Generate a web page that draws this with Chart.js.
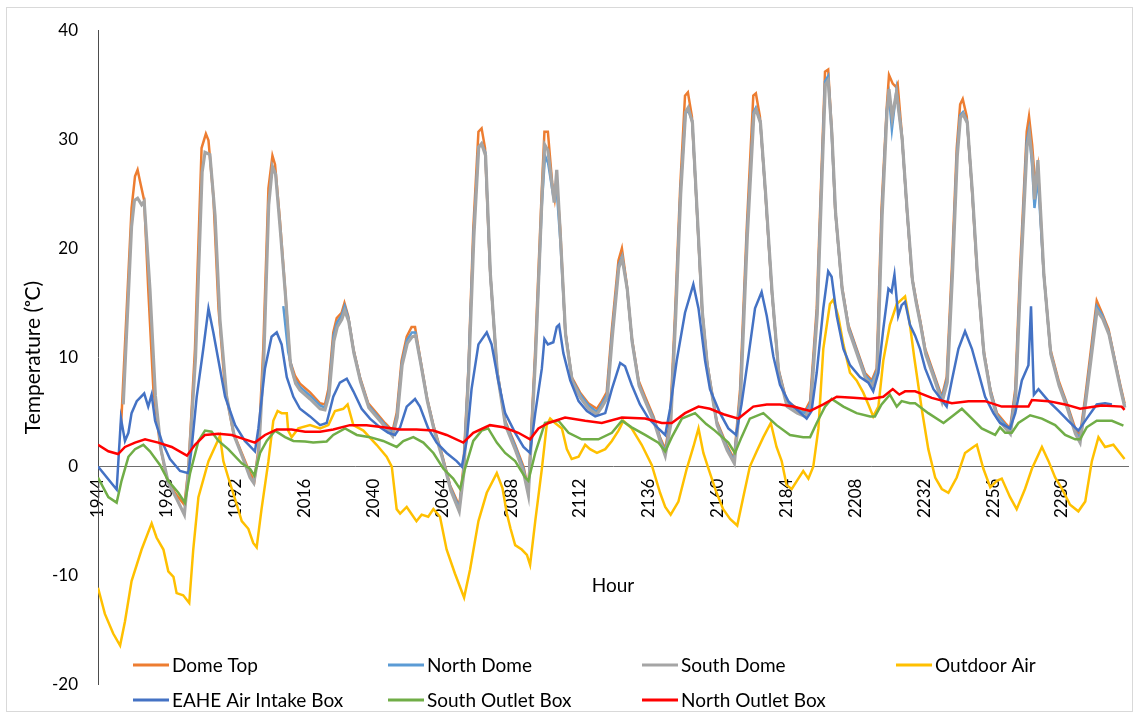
<!DOCTYPE html>
<html>
<head>
<meta charset="utf-8">
<script src="https://cdn.jsdelivr.net/npm/chart.js@4.4.1/dist/chart.umd.min.js"></script>
<style>
  html, body { margin: 0; padding: 0; background: #fff; }
  #wrap { position: relative; width: 1138px; height: 715px; }
  #frame { position: absolute; left: 6px; top: 7px; width: 1127px; height: 705px; border: 1px solid #d9d9d9; box-sizing: border-box; pointer-events: none; }
  canvas { position: absolute; left: 0; top: 0; }
</style>
</head>
<body>
<div id="wrap">
  <canvas id="c" width="1138" height="715"></canvas>
  <div id="frame"></div>
</div>
<script>
// Hourly temperatures (°C) as [hour, value] pairs
const domeTop = [
  [1952,3.5],[1955.7,23.7],[1956.9,26.6],[1957.8,27.2],[1958.6,26.2],[1960.1,24.4],[1961.5,16.3],[1963.3,7.1],[1965.6,2.0],[1967.9,-1.0],[1970.8,-2.4],[1974.1,-3.5],[1975.5,-0.2],[1977.8,10.8],[1980.1,29.2],[1981.6,30.5],[1982.5,29.9],[1984.2,24.8],[1986,14.5],[1988.3,7.1],[1991.2,3.1],[1994.1,1.25],[1997,-0.6],[1998.5,-1.3],[1999.9,1.6],[2001.6,10.8],[2003.4,25.5],[2004.8,28.5],[2005.7,27.7],[2007.4,22.6],[2009.2,16.3],[2010.9,9.7],[2012.7,8.3],[2014.4,7.6],[2017.9,6.8],[2021.4,5.8],[2023.1,5.7],[2024.3,7.1],[2026,12.3],[2027.2,13.6],[2028.9,14.1],[2029.9,15.0],[2031.2,13.8],[2033,10.8],[2035.3,8.2],[2038.2,5.8],[2041.1,4.9],[2044,4.0],[2046.7,3.3],[2048.1,4.9],[2049.8,9.7],[2051.6,11.9],[2053.3,12.8],[2054.5,12.8],[2056.2,10.1],[2058.6,6.4],[2060.9,3.8],[2063.8,1.25],[2066.7,-1.7],[2069.9,-3.6],[2071.3,-0.2],[2073.1,9.0],[2074.8,21.8],[2076.6,30.7],[2077.7,31.0],[2078.9,29.2],[2080.6,18.2],[2083,9.0],[2085.9,4.2],[2089.4,2.0],[2092.3,0.0],[2094,-2.05],[2096.4,10.8],[2098.7,25.5],[2099.6,30.7],[2100.8,30.7],[2102.3,26.0],[2103.2,24.5],[2103.9,26.0],[2105.1,21.8],[2106.8,12.6],[2109.1,8.2],[2112,6.8],[2114.9,5.8],[2117.9,5.3],[2119.6,6.0],[2121.3,6.8],[2123.1,12.6],[2125.4,18.9],[2126.6,20.0],[2128.3,16.7],[2130,11.9],[2132.4,7.9],[2134.7,6.4],[2137.6,4.6],[2139.9,2.7],[2141.7,1.6],[2143.4,4.2],[2145.2,14.5],[2146.9,25.5],[2148.6,34.0],[2149.6,34.3],[2151,32.1],[2152.7,23.7],[2154.5,14.5],[2156.2,9.7],[2157.3,7.9],[2159.6,4.2],[2163.1,2.0],[2165.7,0.7],[2167.8,7.1],[2170.1,21.8],[2172.4,34.0],[2173.3,34.2],[2174.7,32.1],[2176.5,25.5],[2178.8,16.3],[2181.1,9.0],[2184,6.0],[2187.5,5.4],[2190.4,5.1],[2192.2,6.0],[2194.5,14.5],[2196.2,27.4],[2197.4,36.2],[2198.5,36.4],[2199.7,31.0],[2200.9,23.7],[2203.2,16.7],[2205.5,13.0],[2208.4,10.8],[2211.3,8.6],[2213.7,7.9],[2215.4,9.0],[2217.1,23.7],[2218.9,32.9],[2219.7,35.9],[2221,35.1],[2222.1,34.8],[2222.7,35.1],[2224.1,30.7],[2225.9,23.7],[2227.7,17.4],[2229,15.5],[2230.5,13.5],[2232.3,10.8],[2235.2,8.6],[2238.1,6.4],[2239.8,8.2],[2241.6,18.2],[2243.3,29.2],[2244.5,33.2],[2245.4,33.7],[2246.8,32.1],[2248.6,25.5],[2250.3,18.2],[2252.6,10.8],[2255,7.1],[2257.3,4.9],[2260.2,4.0],[2261.9,3.5],[2263.7,7.1],[2265.4,18.2],[2267.7,30.7],[2268.5,32.1],[2269.6,29.5],[2270.6,26.0],[2271.6,27.5],[2273.5,18.2],[2275.9,10.8],[2278.8,7.9],[2281.7,5.8],[2284.6,3.5],[2286.3,2.9],[2288.1,6.4],[2289.8,10.1],[2292.1,15.2],[2293.9,14.1],[2296.2,12.6],[2298.5,9.7],[2300.3,7.5],[2301.8,5.8]
];
const northDome = [
  [2008.6,14.7],[2010.3,10.5],[2012.5,8.0],[2014.4,7.3],[2017.9,6.5],[2021.4,5.6],[2023.1,5.4],[2024.4,6.8],[2026.1,12.0],[2027.3,13.2],[2029,13.9],[2030,14.7],[2031.3,13.6],[2033.1,10.6],[2035.4,8.0],[2038.3,5.6],[2041.2,4.7],[2044.1,3.8],[2046.7,3.1],[2048.2,4.7],[2049.9,9.5],[2051.7,11.6],[2053.4,12.3],[2054.6,12.3],[2056.3,9.8],[2058.7,6.2],[2061,3.6],[2063.9,1.0],[2066.8,-1.9],[2069.9,-3.8],[2071.4,-0.4],[2073.1,8.8],[2074.9,21.4],[2076.6,29.2],[2077.7,29.6],[2079,28.8],[2080.7,17.8],[2083.1,8.8],[2086,4.0],[2089.5,1.8],[2092.3,-0.2],[2094,-2.3],[2096.5,10.5],[2098.7,24.0],[2099.8,28.5],[2100.9,27.8],[2102.5,25.1],[2103.2,25.5],[2103.9,25.3],[2105.2,20.5],[2106.9,12.3],[2109.2,8.0],[2112.1,6.6],[2115,5.6],[2117.9,5.0],[2119.7,5.8],[2121.4,6.6],[2123.2,12.3],[2125.5,18.5],[2126.7,19.3],[2128.4,16.4],[2130.1,11.6],[2132.5,7.6],[2134.8,6.1],[2137.7,4.4],[2140,2.5],[2141.7,1.3],[2143.5,4.0],[2145.3,14.2],[2147,25.2],[2148.7,32.3],[2149.7,32.7],[2151.1,31.7],[2152.8,23.3],[2154.6,14.2],[2156.3,9.5],[2157.4,7.6],[2159.7,4.0],[2163.2,1.8],[2165.7,0.5],[2167.9,6.8],[2170.2,21.4],[2172.5,32.5],[2173.3,32.9],[2174.8,31.7],[2176.6,25.2],[2178.9,16.0],[2181.2,8.8],[2184.1,5.8],[2187.6,5.2],[2190.4,4.9],[2192.3,5.8],[2194.6,14.2],[2196.3,27.2],[2197.4,35.3],[2198.5,35.8],[2199.7,30.7],[2201,23.4],[2203.3,16.4],[2205.6,12.8],[2208.5,10.6],[2211.4,8.4],[2213.7,7.7],[2215.5,8.8],[2217.2,23.3],[2218.9,32.6],[2219.7,34.0],[2220.7,30.9],[2222.3,34.5],[2224.2,30.3],[2226,23.4],[2227.8,17.2],[2229.1,15.2],[2230.6,13.2],[2232.4,10.5],[2235.3,8.4],[2238.1,6.2],[2239.9,8.0],[2241.7,17.8],[2243.4,28.8],[2244.5,32.2],[2245.5,32.5],[2246.9,31.7],[2248.7,25.2],[2250.4,18.0],[2252.7,10.5],[2255.1,6.9],[2257.4,4.7],[2260.3,3.8],[2261.9,3.3],[2263.8,6.9],[2265.5,17.8],[2267.7,29.8],[2268.5,30.9],[2269.6,27.5],[2270.4,23.7],[2271.6,26.5],[2273.6,17.8],[2276,10.5],[2278.9,7.6],[2281.8,5.6],[2284.6,3.2],[2286.3,2.6],[2288.2,6.2],[2289.9,9.8],[2292.1,14.7],[2294,13.9],[2296.3,12.3],[2298.6,9.5],[2300.4,7.2],[2301.8,5.6]
];
const southDome = [
  [1952.8,5.7],[1955.7,22.0],[1956.7,24.4],[1957.8,24.6],[1959.2,24.0],[1960.1,24.3],[1962.1,16.3],[1964,6.5],[1966,1.5],[1968.5,-1.5],[1971.5,-3.0],[1974.1,-4.4],[1975.5,-0.5],[1978,10.0],[1980.3,27.0],[1981.3,28.8],[1983,28.6],[1984.8,23.0],[1986.5,13.5],[1988.8,6.5],[1991.5,2.8],[1994.5,0.8],[1997,-1.0],[1998.3,-1.5],[2000,1.2],[2001.8,10.0],[2003.5,24.0],[2004.8,27.5],[2005.9,26.8],[2007.6,21.5],[2009.4,15.5],[2011.1,9.3],[2012.9,7.6],[2014.4,7.0],[2017.9,6.2],[2021.4,5.3],[2023.1,5.2],[2024.5,6.5],[2026.2,11.5],[2027.4,12.8],[2029,13.5],[2030,14.3],[2031.4,13.3],[2033.2,10.4],[2035.5,7.8],[2038.4,5.4],[2041.3,4.5],[2044.2,3.6],[2046.7,2.8],[2048.3,4.5],[2050,9.3],[2051.8,11.3],[2053.5,11.9],[2054.7,12.0],[2056.4,9.6],[2058.8,6.0],[2061.1,3.4],[2064,0.8],[2067,-2.2],[2069.9,-4.1],[2071.5,-0.6],[2073.2,8.5],[2075,21.0],[2076.7,29.3],[2077.7,29.6],[2079.1,28.5],[2080.8,17.5],[2083.2,8.5],[2086,3.8],[2089.5,1.5],[2092.3,-0.5],[2094,-2.6],[2096.5,10.0],[2098.8,25.0],[2099.7,29.5],[2100.8,29.0],[2102.4,25.5],[2103,24.2],[2103.9,27.2],[2105.2,21.0],[2107,12.0],[2109.3,7.8],[2112.2,6.3],[2115,5.3],[2117.9,4.8],[2119.7,5.5],[2121.5,6.3],[2123.3,12.0],[2125.5,18.2],[2126.7,19.1],[2128.5,16.2],[2130.2,11.4],[2132.6,7.4],[2134.9,5.9],[2137.8,4.1],[2140.1,2.2],[2141.7,1.0],[2143.6,3.8],[2145.4,14.0],[2147.1,25.0],[2148.8,32.5],[2149.7,32.9],[2151.2,31.5],[2152.9,23.0],[2154.7,14.0],[2156.4,9.2],[2157.5,7.4],[2159.8,3.8],[2163.3,1.5],[2165.8,0.3],[2168,6.5],[2170.3,21.0],[2172.6,32.3],[2173.4,32.7],[2174.9,31.5],[2176.7,25.0],[2179,15.8],[2181.3,8.5],[2184.2,5.5],[2187.7,4.9],[2190.5,4.6],[2192.4,5.5],[2194.7,14.0],[2196.4,27.0],[2197.5,35.0],[2198.5,35.4],[2199.8,30.5],[2201.1,23.2],[2203.4,16.2],[2205.7,12.5],[2208.6,10.3],[2211.5,8.1],[2213.8,7.4],[2215.6,8.5],[2217.3,23.0],[2219,32.5],[2219.7,34.6],[2220.8,32.0],[2222.3,34.3],[2224.3,30.0],[2226.1,23.2],[2227.9,17.0],[2229.2,15.0],[2230.7,13.0],[2232.5,10.3],[2235.4,8.1],[2238.2,5.9],[2240,7.7],[2241.8,17.5],[2243.5,28.5],[2244.6,32.0],[2245.5,32.3],[2247,31.5],[2248.8,25.0],[2250.5,17.7],[2252.8,10.3],[2255.2,6.6],[2257.5,4.4],[2260.4,3.5],[2262,3.0],[2263.9,6.6],[2265.6,17.5],[2267.8,29.3],[2268.6,30.5],[2269.7,28.0],[2270.4,24.5],[2271.6,28.1],[2273.7,17.5],[2276.1,10.3],[2279,7.4],[2281.9,5.3],[2284.7,3.0],[2286.3,2.2],[2288.3,6.0],[2290,9.6],[2292.2,14.3],[2294.1,13.6],[2296.4,12.1],[2298.7,9.2],[2300.5,7.0],[2301.9,5.4]
];
const outdoorAir = [
  [1944,-11.1],[1946.4,-13.5],[1949.3,-15.3],[1951.7,-16.4],[1953.4,-14.2],[1955.7,-10.5],[1959.2,-7.6],[1962.7,-5.2],[1964.4,-6.5],[1966.8,-7.6],[1968.5,-9.6],[1970.3,-10.1],[1971.4,-11.6],[1973.7,-11.8],[1975.8,-12.5],[1977.2,-7.6],[1979,-2.8],[1982.5,0.5],[1986.5,2.8],[1987.7,0.5],[1989.4,-1.0],[1991.8,-3.0],[1994.1,-5.0],[1996.4,-5.7],[1998.1,-7.0],[1999.3,-7.4],[2001,-3.9],[2003.4,0.5],[2005.1,4.2],[2006.6,5.1],[2008,4.9],[2009.8,4.9],[2010.3,3.3],[2011.5,2.7],[2013.8,3.5],[2017.9,3.8],[2021.4,3.5],[2024.3,3.8],[2026.6,5.1],[2029.5,5.3],[2031,5.7],[2033,3.8],[2036.5,3.3],[2041.1,2.0],[2044.6,0.9],[2046.4,0],[2048.1,-3.9],[2049.3,-4.3],[2051.6,-3.7],[2055,-5.0],[2056.8,-4.4],[2059.1,-4.6],[2060.9,-3.9],[2063.2,-4.6],[2065.5,-7.6],[2068.4,-9.8],[2071.6,-12.0],[2073.7,-9.4],[2076.6,-5.0],[2079.5,-2.4],[2083,-0.6],[2085,-2.0],[2086.5,-4.3],[2087.8,-5.7],[2089.4,-7.2],[2091.7,-7.6],[2093.5,-8.1],[2094.6,-9.0],[2096.4,-5.0],[2098.7,-0.2],[2100.4,3.8],[2101.6,4.4],[2103.3,4.0],[2105.7,3.5],[2107.4,1.6],[2109.1,0.7],[2111.5,0.9],[2113.8,2.0],[2115.5,1.6],[2117.9,1.25],[2120.8,1.6],[2123.1,2.35],[2125.4,3.3],[2126,3.6],[2127.1,4.2],[2130,3.5],[2133.5,2.0],[2137,0.15],[2139.9,-2.4],[2141.7,-3.7],[2143.6,-4.4],[2146.3,-3.2],[2149.2,-0.2],[2151.5,1.8],[2153.3,3.5],[2155,1.25],[2156.8,-0.2],[2159.6,-2.4],[2161.9,-3.9],[2164.3,-4.8],[2166.8,-5.4],[2168.9,-2.8],[2171.2,0],[2173.6,1.4],[2175.9,2.7],[2178.5,4.0],[2180.5,1.8],[2182.3,0.5],[2184,-1.7],[2185.8,-2.05],[2188.1,-1.1],[2189.8,-0.4],[2191.6,-1.1],[2193.3,0],[2195.1,3.5],[2196.8,10.8],[2199.1,14.9],[2200.3,15.3],[2202,13.8],[2203.8,11.2],[2206.1,8.6],[2208.4,7.9],[2210.7,6.8],[2212.5,5.7],[2214.2,4.6],[2216,5.5],[2217.7,9.7],[2220,13.0],[2222.4,14.9],[2225.3,15.6],[2227,13.0],[2228.5,10.0],[2231.1,5.3],[2233.4,1.6],[2235.8,-1.0],[2238.1,-2.05],[2240.4,-2.4],[2243.3,-1.0],[2246.2,1.25],[2249.1,1.8],[2250.3,2.0],[2252.6,-0.2],[2255,-1.9],[2257.3,-1.3],[2259,-1.1],[2261.9,-2.8],[2264.2,-3.9],[2267.1,-2.05],[2269.5,-0.2],[2273,1.8],[2275.3,0.5],[2277.6,-1.0],[2280,-2.05],[2282.8,-3.5],[2285.7,-4.1],[2288.1,-3.2],[2290.4,0.5],[2292.7,2.7],[2295,1.8],[2297.9,2.0],[2301.8,0.7]
];
const eaheIntake = [
  [1944,0],[1950.5,-2.1],[1952,4.4],[1953.4,2.35],[1954.6,3.1],[1955.7,4.9],[1957.5,6.0],[1960.1,6.7],[1961.5,5.5],[1962.7,6.6],[1963.9,4.2],[1966.2,2.35],[1969.1,0.7],[1972.6,-0.4],[1975.5,-0.6],[1976.6,1.6],[1978.4,6.4],[1980.7,10.8],[1982.5,14.5],[1984.2,12.3],[1986,9.7],[1988.3,6.4],[1991.8,3.8],[1995.2,2.35],[1998.7,1.4],[1999.9,3.5],[2002.2,9.0],[2004.5,11.9],[2006.3,12.3],[2008,11.2],[2009.8,8.2],[2012.1,6.4],[2014.4,5.3],[2017.9,4.6],[2021.4,3.8],[2023.7,4.0],[2026,6.4],[2028.3,7.7],[2030.7,8.05],[2033,6.9],[2035.9,5.3],[2038.8,4.4],[2042.3,3.6],[2045.2,3.1],[2047.5,2.9],[2049.3,3.6],[2051.6,5.5],[2054.5,6.2],[2056.2,5.5],[2059.1,3.5],[2062,2.2],[2065.5,1.25],[2069,0.5],[2070.8,0],[2072.5,2.35],[2074.2,7.1],[2076.6,11.2],[2079.5,12.3],[2081.2,11.2],[2083.5,7.9],[2085.9,4.9],[2089.4,3.1],[2092.3,1.8],[2094.6,1.25],[2096.4,4.9],[2098.7,9.0],[2099.6,11.7],[2100.8,11.2],[2102.7,11.4],[2103.9,12.8],[2104.7,13.0],[2106.2,10.4],[2108.6,7.9],[2111.5,6.0],[2114.4,5.1],[2117.3,4.6],[2120.8,4.9],[2123.1,7.1],[2126,9.5],[2127.7,9.2],[2130,7.5],[2132.9,5.7],[2135.9,4.4],[2139.3,3.5],[2141.7,2.9],[2143.4,5.3],[2145.7,9.7],[2148.6,14.1],[2151.5,16.7],[2153.3,14.5],[2155.6,9.7],[2157.3,7.1],[2160.8,4.9],[2163.7,3.5],[2166.4,2.9],[2168.3,5.7],[2170.7,10.1],[2173,14.5],[2175.3,16.0],[2177.1,13.8],[2179.4,10.1],[2181.7,7.5],[2184.6,6.0],[2188.1,5.1],[2191,4.4],[2192.7,5.1],[2194.5,8.6],[2196.8,14.5],[2198.5,17.9],[2199.7,17.4],[2201.5,13.8],[2203.8,10.8],[2206.1,9.3],[2209.6,8.2],[2212.5,7.7],[2214.2,6.9],[2216,8.6],[2217.7,12.6],[2219.5,16.3],[2220.6,16.0],[2221.6,17.6],[2222.9,13.8],[2224.1,14.8],[2225.3,15.1],[2227,13.0],[2228.8,12.0],[2230.5,10.8],[2232.3,9.0],[2235.2,7.1],[2239.8,5.5],[2241.6,7.9],[2243.9,10.8],[2246.2,12.4],[2248.6,10.8],[2250.9,8.6],[2253.2,6.4],[2256.1,4.9],[2258.4,4.0],[2261.9,3.5],[2263.7,4.9],[2266,7.9],[2268.3,9.3],[2269.2,14.7],[2270.2,6.6],[2271.8,7.1],[2275.3,6.0],[2278.8,5.1],[2282.2,4.2],[2285.7,3.3],[2288.6,4.4],[2292.1,5.7],[2295,5.8],[2297.4,5.7]
];
const southOutlet = [
  [1944,-1.0],[1947.6,-2.8],[1950.5,-3.3],[1952.2,-1.3],[1954.6,0.9],[1956.9,1.6],[1959.8,2.0],[1962.1,1.4],[1965.6,0.15],[1968.5,-1.3],[1972,-2.4],[1974.3,-3.3],[1976.1,-0.6],[1979,2.35],[1981.3,3.3],[1983.6,3.2],[1986,2.35],[1989.4,1.6],[1994.1,0.3],[1997,-0.2],[1998.5,-0.8],[2000.5,1.25],[2002.8,2.35],[2005.7,3.3],[2009.2,2.7],[2012.1,2.35],[2016.2,2.3],[2019,2.2],[2023.7,2.3],[2026,2.9],[2030.1,3.5],[2034.2,2.9],[2038.8,2.7],[2043.4,2.35],[2048.1,1.8],[2050.4,2.35],[2053.9,2.7],[2057.4,2.2],[2060.9,1.25],[2064.4,-0.2],[2067.8,-1.1],[2070.2,-2.05],[2071.9,-0.2],[2074.8,2.35],[2077.7,3.3],[2080,3.5],[2083,2.2],[2085.9,1.25],[2089.4,0.5],[2092.9,-1.0],[2094,-1.3],[2096.4,1.25],[2099.8,4.0],[2104.5,4.2],[2108,3.1],[2112.6,2.5],[2118.4,2.5],[2123.1,3.1],[2126.6,4.2],[2130,3.6],[2134.7,2.9],[2139.3,2.2],[2141.7,1.4],[2144,2.7],[2147.5,4.4],[2152.1,4.9],[2156,3.9],[2159,3.3],[2163.7,2.2],[2166,1.25],[2168.3,2.7],[2171.2,4.4],[2175.9,4.9],[2180.5,3.8],[2185.2,2.9],[2189.8,2.7],[2192.2,2.7],[2194.5,4.0],[2197.4,5.5],[2199.7,6.2],[2203.8,5.5],[2208.4,4.9],[2213.1,4.6],[2214.8,4.6],[2217.1,5.7],[2220,6.6],[2222.4,5.5],[2224.1,6.0],[2227,5.8],[2228.8,5.8],[2233.4,4.9],[2238.7,4.0],[2242.2,4.7],[2245.1,5.3],[2248.6,4.4],[2252,3.5],[2256.7,2.9],[2258.4,3.6],[2260.2,3.1],[2262.5,3.1],[2264.8,4.0],[2268.9,4.7],[2273,4.4],[2277.6,3.8],[2281.1,2.9],[2284.6,2.5],[2286.3,2.5],[2288.6,3.6],[2292.1,4.2],[2297.4,4.2],[2301.4,3.75]
];
const northOutlet = [
  [1944,2.0],[1947.6,1.4],[1951,1.15],[1953.4,1.8],[1956.9,2.2],[1960.4,2.5],[1965,2.2],[1969.7,1.8],[1975,1.0],[1977.8,2.0],[1981.3,2.9],[1986,3.0],[1990.6,2.9],[1995.2,2.5],[1998.7,2.2],[2002.2,2.9],[2006.3,3.4],[2011.5,3.4],[2016.2,3.2],[2021.4,3.2],[2026,3.4],[2031.8,3.8],[2037.6,3.8],[2043.4,3.6],[2049.3,3.4],[2055,3.4],[2060.9,3.3],[2065.5,2.9],[2071.3,2.2],[2074.8,3.1],[2080.6,3.8],[2085.3,3.6],[2090.5,3.1],[2094.6,2.5],[2097.5,3.5],[2101,4.0],[2106.8,4.5],[2113.8,4.2],[2119.6,4.0],[2126.6,4.5],[2134.7,4.4],[2140.5,4.0],[2144,4.0],[2148.6,4.9],[2153.3,5.5],[2157.3,5.3],[2162,4.8],[2167.2,4.4],[2172.4,5.5],[2177.1,5.7],[2181.7,5.7],[2186.3,5.5],[2192.2,5.1],[2196.8,5.7],[2201.5,6.4],[2207.3,6.3],[2213.1,6.2],[2217.7,6.4],[2221,7.1],[2223.3,6.6],[2225.3,6.9],[2228.8,6.9],[2234.6,6.3],[2241.6,5.8],[2247.4,6.0],[2253.2,6.0],[2259,5.5],[2268.3,5.5],[2269.5,6.1],[2275.3,6.0],[2281.1,5.7],[2286.3,5.3],[2293.9,5.6],[2300.8,5.5],[2301.8,5.2]
];

const seriesNames = ['Dome Top', 'North Dome', 'South Dome', 'Outdoor Air', 'EAHE Air Intake Box', 'South Outlet Box', 'North Outlet Box'];
const seriesData = [domeTop, northDome, southDome, outdoorAir, eaheIntake, southOutlet, northOutlet];
const seriesColors = ['#ED7D31', '#5B9BD5', '#A5A5A5', '#FFC000', '#4472C4', '#70AD47', '#FF0000'];
const seriesWidths = [2.5, 2.5, 3.2, 2.5, 2.5, 2.5, 2.5];

const hourTicks = [1944, 1968, 1992, 2016, 2040, 2064, 2088, 2112, 2136, 2160, 2184, 2208, 2232, 2256, 2280];
const tempTicks = [-20, -10, 0, 10, 20, 30, 40];

const FONT = 'Lato, "Open Sans", sans-serif';

// Legend drawn inside the plot, two rows of four columns
const legendPlugin = {
  id: 'innerLegend',
  afterDraw(chart) {
    const ctx = chart.ctx;
    const colX = [133, 388, 642, 896];
    const rowY = [665, 700];
    ctx.save();
    ctx.font = '19px ' + FONT;
    ctx.textBaseline = 'middle';
    seriesNames.forEach((name, i) => {
      const x = colX[i % 4];
      const y = rowY[Math.floor(i / 4)];
      ctx.strokeStyle = seriesColors[i];
      ctx.lineWidth = 3;
      ctx.beginPath();
      ctx.moveTo(x, y);
      ctx.lineTo(x + 36, y);
      ctx.stroke();
      ctx.fillStyle = '#000';
      ctx.fillText(name, x + 39, y + 1);
    });
    ctx.restore();
  }
};

const datasets = seriesNames.map((name, i) => ({
  label: name,
  data: seriesData[i].map(([h, t]) => ({ x: h, y: t })),
  borderColor: seriesColors[i],
  backgroundColor: seriesColors[i],
  borderWidth: seriesWidths[i],
  pointRadius: 0,
  tension: 0,
  fill: false,
  order: seriesNames.length - i
}));

new Chart(document.getElementById('c'), {
  type: 'line',
  data: { datasets },
  options: {
    responsive: false,
    animation: false,
    devicePixelRatio: 1,
    layout: { padding: { left: 0, top: 28, right: 10, bottom: 21 } },
    plugins: { legend: { display: false }, tooltip: { enabled: false } },
    scales: {
      x: {
        type: 'linear',
        position: { y: 0 },
        min: 1944,
        max: 2303,
        grid: { display: false, drawTicks: false },
        border: { display: true, color: '#6e6e6e', width: 1 },
        afterBuildTicks(scale) { scale.ticks = hourTicks.map(v => ({ value: v })); },
        ticks: {
          minRotation: 90,
          maxRotation: 90,
          padding: 12,
          autoSkip: false,
          color: '#000',
          font: { family: FONT, size: 17 },
          callback: v => String(v)
        },
        title: {
          display: true,
          text: 'Hour',
          color: '#000',
          font: { family: FONT, size: 19 },
          padding: { top: 44, bottom: 0 }
        }
      },
      y: {
        type: 'linear',
        min: -20,
        max: 40,
        afterBuildTicks(scale) { scale.ticks = tempTicks.map(v => ({ value: v })); },
        afterFit(scale) { scale.width = 98; },
        grid: { display: false, drawTicks: false },
        border: { display: true, color: '#4d4d4d', width: 1 },
        ticks: {
          padding: 20,
          color: '#000',
          font: { family: FONT, size: 17 },
          callback: v => String(v)
        },
        title: {
          display: true,
          text: 'Temperature (ᵒC)',
          color: '#000',
          font: { family: FONT, size: 21 },
          padding: { top: 21, bottom: 0 }
        }
      }
    }
  },
  plugins: [legendPlugin]
});
</script>
</body>
</html>
